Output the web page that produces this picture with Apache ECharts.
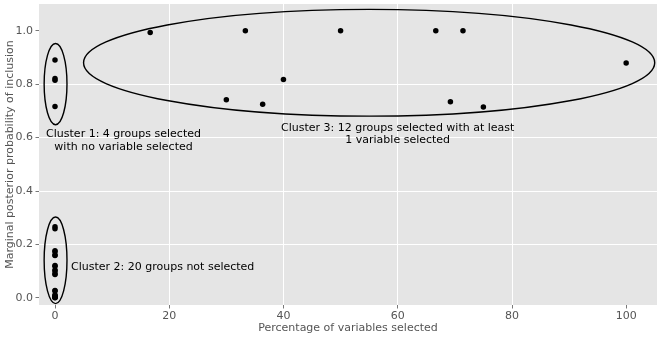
<!DOCTYPE html>
<html>
<head>
<meta charset="utf-8">
<script src="https://cdn.jsdelivr.net/npm/echarts@6/dist/echarts.min.js"></script>
<style>
  html, body { margin: 0; padding: 0; background: #fff; }
  #chart { width: 663px; height: 338px; }
</style>
</head>
<body>
<div id="chart"></div>
<script>
// points: percentage of variables selected vs marginal posterior probability
var pctSelected = [
  0, 0, 0, 0,
  0, 0, 0, 0, 0, 0, 0, 0, 0, 0, 0, 0, 0, 0, 0, 0, 0, 0, 0, 0,
  16.67, 33.33, 50, 66.67, 71.43, 100, 30, 36.36, 40, 69.23, 75
];
var probInclusion = [
  0.890, 0.821, 0.814, 0.716,
  0.266, 0.258, 0.176, 0.172, 0.160, 0.158, 0.121, 0.118, 0.104, 0.100,
  0.090, 0.087, 0.027, 0.025, 0.010, 0.008, 0.003, 0.002, 0.001, 0.000,
  0.993, 1.000, 1.000, 1.000, 1.000, 0.879, 0.741, 0.725, 0.817, 0.734, 0.714
];

// cluster ellipses (centre and half-widths in data units)
var ellipseCx = [0.1, 0.1, 55];
var ellipseCy = [0.80, 0.14, 0.88];
var ellipseRx = [2.0, 2.0, 50];
var ellipseRy = [0.152, 0.162, 0.2];

// cluster annotations
var noteText = [
  'Cluster 1: 4 groups selected\nwith no variable selected',
  'Cluster 2: 20 groups not selected',
  'Cluster 3: 12 groups selected with at least\n1 variable selected'
];
var noteX = [12, 2.8, 60];
var noteY = [0.588, 0.116, 0.612];
var noteAlign = ['center', 'left', 'center'];

var xTicks = [0, 20, 40, 60, 80, 100];
var yTicks = [0, 0.2, 0.4, 0.6, 0.8, 1.0];

var FONT = '"DejaVu Sans", sans-serif';
var myChart = echarts.init(document.getElementById('chart'));

var pointData = pctSelected.map(function (x, i) { return [x, probInclusion[i]]; });
var ellipseData = ellipseCx.map(function (cx, i) {
  return [cx, ellipseCy[i], ellipseRx[i], ellipseRy[i]];
});
var noteData = noteX.map(function (x, i) { return [x, noteY[i], i]; });

var option = {
  animation: false,
  backgroundColor: '#ffffff',
  grid: {
    left: 39, right: 6, top: 4, bottom: 33,
    containLabel: false,
    outerBoundsMode: 'none',
    show: true, backgroundColor: '#e5e5e5', borderWidth: 0
  },
  xAxis: {
    type: 'value',
    min: -2.8, max: 105.4,
    name: 'Percentage of variables selected',
    nameLocation: 'middle',
    nameGap: 18,
    nameMoveOverlap: false,
    nameTextStyle: { color: '#555555', fontSize: 11, fontFamily: FONT },
    axisLine: { show: false, onZero: false },
    axisTick: { show: true, length: 3.5, customValues: xTicks, lineStyle: { color: '#555555', width: 0.8 } },
    axisLabel: { customValues: xTicks, color: '#555555', fontSize: 11, fontFamily: FONT, margin: 6 },
    splitLine: { show: true, showMinLine: false, showMaxLine: false, lineStyle: { color: '#ffffff', width: 1 } }
  },
  yAxis: {
    type: 'value',
    min: -0.0273, max: 1.1,
    name: 'Marginal posterior probability of inclusion',
    nameLocation: 'middle',
    nameGap: 23,
    nameMoveOverlap: false,
    nameTextStyle: { color: '#555555', fontSize: 11, fontFamily: FONT },
    axisLine: { show: false, onZero: false },
    axisTick: { show: true, length: 3.5, customValues: yTicks, lineStyle: { color: '#555555', width: 0.8 } },
    axisLabel: {
      customValues: yTicks, color: '#555555', fontSize: 11, fontFamily: FONT, margin: 6,
      formatter: function (v) { return v.toFixed(1); }
    },
    splitLine: { show: true, showMinLine: false, showMaxLine: false, lineStyle: { color: '#ffffff', width: 1 } }
  },
  series: [
    {
      type: 'scatter',
      data: pointData,
      symbol: 'circle',
      symbolSize: 5.5,
      itemStyle: { color: '#000000', opacity: 1 },
      z: 3
    },
    {
      type: 'custom',
      data: ellipseData,
      encode: { x: 0, y: 1 },
      clip: false,
      z: 2,
      renderItem: function (params, api) {
        var c = api.coord([api.value(0), api.value(1)]);
        var s = api.size([api.value(2), api.value(3)]);
        return {
          type: 'ellipse',
          shape: { cx: c[0], cy: c[1], rx: s[0], ry: s[1] },
          style: { fill: 'none', stroke: '#000000', lineWidth: 1.4 }
        };
      }
    },
    {
      type: 'custom',
      data: noteData,
      encode: { x: 0, y: 1 },
      clip: false,
      z: 4,
      renderItem: function (params, api) {
        var c = api.coord([api.value(0), api.value(1)]);
        var i = api.value(2);
        return {
          type: 'text',
          x: c[0], y: c[1],
          style: {
            text: noteText[i],
            textAlign: noteAlign[i],
            textVerticalAlign: 'middle',
            fill: '#000000',
            font: '11px ' + FONT,
            lineHeight: 12.5
          }
        };
      }
    }
  ]
};

option && myChart.setOption(option);
</script>
</body>
</html>
